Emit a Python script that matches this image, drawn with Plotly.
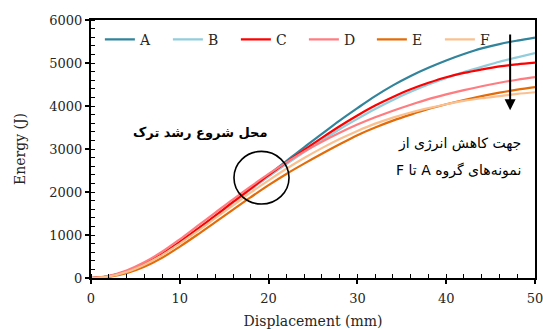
import plotly.graph_objects as go

displacement = [0, 2, 4, 6, 8, 10, 12, 14, 16, 18, 20, 22, 24, 26, 28, 30,
                32, 34, 36, 38, 40, 42, 44, 46, 48, 50]

energy_A = [0, 40, 150, 320, 550, 830, 1130, 1440, 1760, 2080, 2400, 2720, 3040, 3350, 3660,
            3950, 4230, 4480, 4700, 4890, 5060, 5210, 5340, 5440, 5520, 5590]
energy_B = [0, 40, 150, 320, 550, 830, 1130, 1440, 1750, 2060, 2360, 2650, 2930, 3200, 3460,
            3700, 3930, 4140, 4330, 4500, 4650, 4790, 4910, 5030, 5130, 5230]
energy_C = [0, 40, 155, 330, 560, 840, 1140, 1450, 1770, 2080, 2390, 2690, 2980, 3260, 3530,
            3780, 4010, 4210, 4390, 4540, 4670, 4770, 4850, 4920, 4970, 5010]
energy_D = [0, 50, 175, 365, 610, 900, 1210, 1520, 1830, 2130, 2420, 2690, 2940, 3170, 3380,
            3570, 3740, 3890, 4030, 4160, 4270, 4370, 4460, 4540, 4610, 4670]
energy_E = [0, 25, 110, 260, 470, 730, 1010, 1300, 1590, 1880, 2160, 2420, 2660, 2890, 3110,
            3320, 3500, 3660, 3800, 3930, 4040, 4140, 4230, 4310, 4380, 4440]
energy_F = [0, 35, 140, 310, 530, 800, 1090, 1390, 1690, 1990, 2270, 2540, 2790, 3020, 3230,
            3420, 3590, 3730, 3850, 3950, 4040, 4120, 4180, 4230, 4280, 4320]

series_names = ["A", "B", "C", "D", "E", "F"]
series_values = [energy_A, energy_B, energy_C, energy_D, energy_E, energy_F]
series_colors = ["#31849B", "#92CDDC", "#FF0000", "#FF7C80", "#E36C09", "#FAC090"]

serif = "DejaVu Serif"
persian = "DejaVu Sans"
RLE, PDF = "\u202b", "\u202c"

fig = go.Figure()
for name, vals, col in zip(series_names, series_values, series_colors):
    fig.add_trace(go.Scatter(x=displacement, y=vals, mode="lines", name=name,
                             line=dict(color=col, width=2.2, shape="spline")))

fig.update_layout(
    width=543, height=329,
    margin=dict(l=91, r=8, t=20, b=51),
    paper_bgcolor="white", plot_bgcolor="white",
    font=dict(family=serif, size=13, color="#262626"),
    showlegend=True,
    legend=dict(orientation="h", x=0.02, y=0.985, xanchor="left", yanchor="top",
                itemwidth=30, entrywidth=23, bgcolor="rgba(0,0,0,0)",
                font=dict(family=serif, size=14, color="#262626"),
                tracegroupgap=0, itemclick=False),
)

fig.update_xaxes(
    range=[0, 50], tickvals=[0, 10, 20, 30, 40, 50],
    showgrid=False, zeroline=False, automargin=False, ticklabeloverflow="allow",
    showline=True, linecolor="black", linewidth=2, mirror=True,
    ticks="outside", ticklen=4, tickwidth=1.5, tickcolor="black",
    minor=dict(dtick=2, ticks="inside", ticklen=4, tickwidth=1, tickcolor="black", showgrid=False),
    title=dict(text="Displacement (mm)", font=dict(family=serif, size=14, color="#262626"), standoff=14),
    tickfont=dict(family=serif, size=13, color="#262626"),
    ticklabelstandoff=3,
)
fig.update_yaxes(
    range=[0, 6000], tickvals=[0, 1000, 2000, 3000, 4000, 5000, 6000],
    showgrid=False, zeroline=False, automargin=False, ticklabeloverflow="allow",
    showline=True, linecolor="black", linewidth=2, mirror=True,
    ticks="outside", ticklen=4, tickwidth=1.5, tickcolor="black",
    minor=dict(dtick=200, ticks="inside", ticklen=4, tickwidth=1, tickcolor="black", showgrid=False),
    title=dict(text="Energy (J)", font=dict(family=serif, size=14, color="#262626"), standoff=20),
    tickfont=dict(family=serif, size=13, color="#262626"),
)

# circle marking crack initiation
fig.add_shape(type="circle", xref="x", yref="y", x0=16.1, x1=22.3, y0=1720, y1=2945,
              line=dict(color="black", width=1.6))

# arrow showing energy decrease direction
fig.add_annotation(x=47.2, y=3900, ax=47.2, ay=5700, xref="x", yref="y", axref="x", ayref="y",
                   showarrow=True, arrowhead=2, arrowsize=1.1, arrowwidth=2, arrowcolor="black", text="")

fig.add_annotation(x=12.3, y=3390, xref="x", yref="y", text="<b>محل شروع رشد ترک</b>",
                   showarrow=False, font=dict(family=persian, size=13, color="black"))
fig.add_annotation(x=48.6, y=3120, xref="x", yref="y", text=RLE + "جهت کاهش انرژی از" + PDF,
                   showarrow=False, xanchor="right", font=dict(family=persian, size=14, color="black"))
fig.add_annotation(x=48.6, y=2490, xref="x", yref="y", text=RLE + "نمونه‌های گروه A تا F" + PDF,
                   showarrow=False, xanchor="right", font=dict(family=persian, size=14, color="black"))

fig.write_html("out.html")
